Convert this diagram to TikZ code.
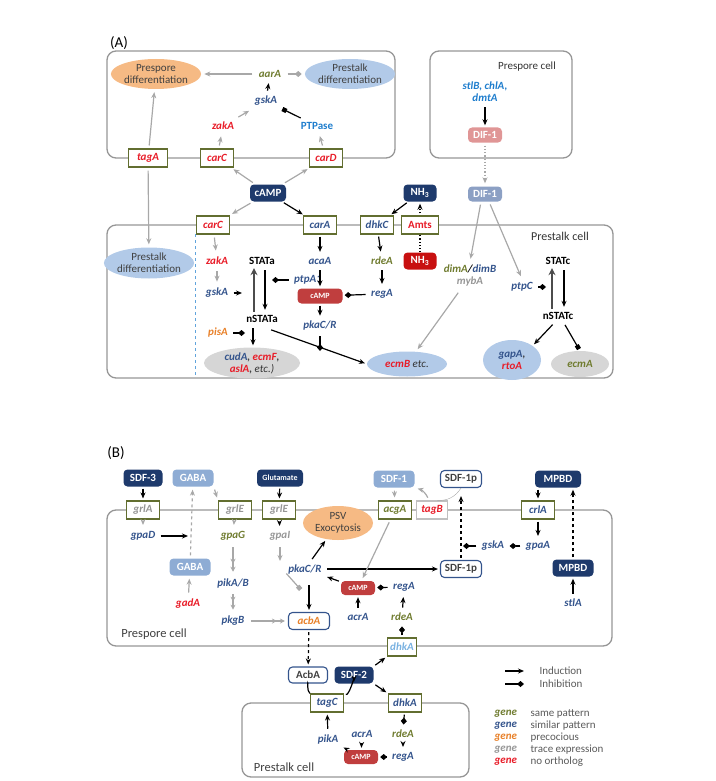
\documentclass[tikz,border=0pt]{standalone}
\usepackage{fontspec}
\setmainfont{Carlito}
\usetikzlibrary{arrows.meta,shapes.geometric}

\definecolor{gngreen}{RGB}{112,124,48}
\definecolor{gnblue}{RGB}{52,84,140}
\definecolor{gnorange}{RGB}{232,128,40}
\definecolor{gngrey}{RGB}{150,150,150}
\definecolor{gnred}{RGB}{232,28,40}
\definecolor{skyblue}{RGB}{30,125,205}
\definecolor{boxgreen}{RGB}{98,110,48}
\definecolor{cellgrey}{RGB}{150,150,150}
\definecolor{arrgrey}{RGB}{168,168,168}
\definecolor{navy}{RGB}{30,58,108}
\definecolor{paleblue}{RGB}{142,172,212}
\definecolor{difblue}{RGB}{140,160,196}
\definecolor{difpink}{RGB}{224,150,150}
\definecolor{camp}{RGB}{192,62,62}
\definecolor{nhred}{RGB}{200,16,16}
\definecolor{ellorange}{RGB}{246,186,132}
\definecolor{ellblue}{RGB}{178,202,232}
\definecolor{ellgrey}{RGB}{214,214,214}
\definecolor{legtext}{RGB}{90,90,90}

\tikzset{
  txt/.style={font=\fontsize{11}{12}\selectfont},
  lbl/.style={font=\fontsize{11}{12}\selectfont\bfseries},
  gene/.style={font=\fontsize{11}{12}\selectfont\bfseries\itshape},
  gg/.style={gene, text=gngreen},
  gb/.style={gene, text=gnblue},
  go/.style={gene, text=gnorange},
  gy/.style={gene, text=gngrey},
  gr/.style={gene, text=gnred},
  cellbox/.style={draw=cellgrey, line width=1.3pt, rounded corners=9pt},
  recep/.style={gene, draw=boxgreen, fill=white, line width=1.1pt, minimum width=33pt, minimum height=18pt, inner sep=1pt},
  pill/.style={lbl, rounded corners=4pt, minimum width=36pt, minimum height=17pt, inner sep=1pt, text=white},
  darkbox/.style={pill, fill=navy},
  lightbox/.style={pill, fill=paleblue},
  redbox/.style={pill, fill=camp, minimum width=34pt, minimum height=14pt, font=\fontsize{8}{9}\selectfont\bfseries},
  openbox/.style={pill, draw=gnblue, line width=1.1pt, fill=white, text=black!75},
  blob/.style={ellipse, txt, align=center, inner sep=0pt, text=black!75},
  ind/.style={-{Stealth[length=6pt,width=5pt]}, line width=1.2pt, shorten <=2pt, shorten >=2pt},
  inh/.style={-{Diamond[length=7pt,width=6pt]}, line width=1.2pt, shorten <=2pt, shorten >=2pt},
  blk/.style={-{Square[length=4.5pt,width=4.5pt]}, line width=1.2pt, shorten <=2pt, shorten >=2pt},
  gind/.style={ind, arrgrey, shorten <=3pt, shorten >=3pt},
  ginh/.style={inh, arrgrey, shorten <=3pt, shorten >=3pt},
  gblk/.style={blk, arrgrey},
  gdbl/.style={-{Stealth[length=5pt,width=5pt,sep=3pt]Stealth[length=5pt,width=5pt]}, line width=1.2pt, arrgrey, shorten <=3pt, shorten >=3pt},
}

\begin{document}
\begin{tikzpicture}[x=1pt,y=-1pt]
\useasboundingbox (0,0) rectangle (715,781);

% (A)
\node[txt, font=\fontsize{15}{16}\selectfont] (labA) at (119,43) {(A)};
\draw[cellbox] (107,51) rectangle (395,158);
\draw[cellbox] (430,51) rectangle (572,158);
\draw[cellbox] (107,225) rectangle (613,378);
\draw[skyblue!70, dashed] (195,234) -- (195,376);

\node[blob, fill=ellorange, minimum width=88pt, minimum height=30pt] (spdiff) at (156,74) {Prespore\\differentiation};
\node[blob, fill=ellblue, minimum width=82pt, minimum height=30pt] (tkdiff) at (350,74) {Prestalk\\differentiation};
\node[gg] (aarA) at (270,74) {aarA};
\node[gb] (tgskA) at (266,101) {gskA};
\node[gr] (tzakA) at (223,126) {zakA};
\node[lbl, text=skyblue] (ptpase) at (317,126) {PTPase};
\node[recep, text=gnred, minimum width=39pt] (tagA) at (148,158) {tagA};
\node[recep, text=gnred] (tcarC) at (217,158) {carC};
\node[recep, text=gnred] (carD) at (326,158) {carD};
\node[darkbox] (tcamp) at (268,193) {cAMP};

\node[txt, text=black!80] (spcell) at (527,67) {Prespore cell};
\node[gene, text=skyblue, align=center] (stlB) at (485,92) {stlB, chlA,\\dmtA};
\node[pill, fill=difpink, minimum width=34pt, minimum height=15pt] (pdif) at (485,135) {DIF-1};
\node[pill, fill=difblue, minimum width=34pt, minimum height=15pt] (dif) at (485,194) {DIF-1};

\node[recep, text=gnred] (scarC) at (213,225) {carC};
\node[recep, text=gnblue] (carA) at (320,225) {carA};
\node[recep, text=gnblue] (dhkC) at (377,225) {dhkC};
\node[recep, lbl, text=gnred, minimum width=37pt] (amts) at (420,225) {Amts};
\node[darkbox, minimum width=33pt] (nho) at (420,193) {NH\textsubscript{3}};
\node[pill, fill=nhred, minimum width=33pt] (nhi) at (420,261) {NH\textsubscript{3}};

\node[blob, fill=ellblue, minimum width=76pt, minimum height=31pt] (stdiff) at (149,263) {Prestalk\\differentiation};
\node[gr] (szakA) at (217,261) {zakA};
\node[gb] (sgskA) at (217,293) {gskA};
\node[lbl] (stata) at (262,261) {STATa};
\node[lbl] (nstata) at (262,319) {nSTATa};
\node[gb] (ptpA1) at (308,280) {ptpA1};
\node[go] (pisA) at (218,333) {pisA};
\node[blob, fill=ellgrey, minimum width=96pt, minimum height=31pt, gene] (cud) at (252,363)
  {\textcolor{gnblue}{cudA},\ \textcolor{gnred}{ecmF},\\\textcolor{gnred}{aslA}, \textcolor{black!80}{\mdseries etc.)}};
\node[gb] (acaA) at (320,261) {acaA};
\node[redbox, minimum width=45pt, minimum height=15pt] (scamp) at (320,296) {cAMP};
\node[gb] (spkaC) at (320,326) {pkaC/R};
\node[gg] (rdeA) at (382,261) {rdeA};
\node[gb] (sregA) at (382,294) {regA};
\node[gene, align=center] (dima) at (470,276) {\textcolor{gngreen}{dimA}/\textcolor{gnblue}{dimB}\\\textcolor{gngrey}{mybA}};
\node[gb] (ptpC) at (522,287) {ptpC};
\node[blob, fill=ellblue, minimum width=80pt, minimum height=25pt, gene] (ecmB) at (407,364) {\textcolor{gnred}{ecmB} \textcolor{black!80}{\mdseries etc.}};
\node[txt, text=black!80, font=\fontsize{12}{13}\selectfont] (stcell) at (560,236) {Prestalk cell};
\node[lbl] (statc) at (558,261) {STATc};
\node[lbl] (nstatc) at (558,316) {nSTATc};
\node[blob, fill=ellblue, minimum width=58pt, minimum height=40pt, gene] (gapA) at (512,360) {\textcolor{gnblue}{gapA},\\\textcolor{gnred}{rtoA}};
\node[blob, fill=ellgrey, minimum width=58pt, minimum height=26pt, gg] (ecmA) at (580,364) {ecmA};

\coordinate (gskend) at (244,293);
\coordinate (ptpend) at (270,280);
\coordinate (pisend) at (247,333);
\coordinate (pkaend) at (320,353);
\coordinate (ptpcend) at (548,287);

\draw[gind] (aarA) -- (spdiff);
\draw[ginh] (aarA) -- (tkdiff);
\draw[ind] (tgskA) -- (aarA);
\draw[blk] (ptpase) -- (tgskA);
\draw[gind] (tzakA) -- (tgskA);
\draw[gind] (tcarC) -- (tzakA);
\draw[gind] (carD) -- (ptpase);
\draw[gind] (tagA) -- (spdiff);
\draw[gind] (tcamp) -- (tcarC);
\draw[gind] (tcamp) -- (carD);
\draw[gind] (tagA) -- (stdiff);
\draw[ind] (stlB) -- (pdif);
\draw[gind, dotted] (pdif) -- (dif);
\draw[ind] (tcamp) -- (carA);
\draw[gind] (tcamp) -- (scarC);
\draw[line width=1.2pt, dotted] (nhi) -- (amts);
\draw[ind, dotted] (amts) -- (nho);
\draw[ind] (nho) -- (dhkC);
\draw[gind] (scarC) -- (szakA);
\draw[gind] (szakA) -- (sgskA);
\draw[ind] (sgskA) -- (gskend);
\draw[-{Stealth[length=7pt,width=7pt]}, line width=2pt, black!70] ([xshift=-8pt]nstata.north) -- ([xshift=-8pt]stata.south);
\draw[ind] ([xshift=3pt]stata.south) -- ([xshift=3pt]nstata.north);
\draw[inh] (ptpA1) -- (ptpend);
\draw[inh] (pisA) -- (pisend);
\draw[ind] ([xshift=-9pt]nstata.south) -- ([xshift=1pt]cud.north);
\draw[ind] ([xshift=-12pt,yshift=-3pt]nstata.south east) -- (ecmB.west);
\draw[ind] (carA) -- (acaA);
\draw[ind] (acaA) -- (scamp);
\draw[ind] (scamp) -- (spkaC);
\draw[inh] (spkaC) -- (pkaend);
\draw[ind] (dhkC) -- (rdeA);
\draw[ind] (rdeA) -- (sregA);
\draw[inh] (sregA) -- (scamp);
\draw[gind] ([xshift=-4pt]dif.south) -- (dima.north);
\draw[gind] ([xshift=4pt]dif.south) -- (ptpC.north);
\draw[gind] ([xshift=-10pt]dima.south) -- (ecmB);
\draw[inh] (ptpC) -- (ptpcend);
\draw[-{Stealth[length=7pt,width=7pt]}, line width=2pt, black!70] ([xshift=-6pt]nstatc.north) -- ([xshift=-6pt]statc.south);
\draw[ind] ([xshift=6pt]statc.south) -- ([xshift=6pt]nstatc.north);
\draw[ind] ([xshift=-4pt]nstatc.south) -- (gapA.north east);
\draw[blk] ([xshift=6pt]nstatc.south) -- (ecmA.north);

% (B)
\node[txt, font=\fontsize{15}{16}\selectfont] (labB) at (116,453) {(B)};
\draw[cellbox] (107,510) rectangle (612,646);
\draw[cellbox] (242,703) rectangle (469,777);
\node[txt, font=\fontsize{12.5}{13}\selectfont, text=black!75] (spcellB) at (154,634) {Prespore cell};
\node[txt, font=\fontsize{12.5}{13}\selectfont, text=black!75] (stcellB) at (284,767) {Prestalk cell};

\node[recep, text=gngrey] (grlA) at (143,510) {grlA};
\node[recep, text=gngrey] (grlE) at (235,510) {grlE};
\node[recep, text=gngrey] (grlEb) at (279,510) {grlE};
\node[recep, text=gngreen] (acgA) at (395,510) {acgA};
\node[recep, draw=cellgrey!60, text=gnred, minimum width=31pt] (tagB) at (432,510) {tagB};
\node[recep, text=gnblue] (crlA) at (538,510) {crlA};
\node[recep, text=skyblue!60, minimum width=29pt] (pdhkA) at (402,647) {dhkA};

\node[darkbox, minimum width=39pt] (sdf3) at (143,478) {SDF-3};
\node[lightbox, minimum width=41pt] (gabao) at (193,478) {GABA};
\node[darkbox, minimum width=46pt, font=\fontsize{8}{9}\selectfont\bfseries] (glut) at (280,478) {Glutamate};
\node[lightbox, minimum width=41pt] (sdf1) at (394,479) {SDF-1};
\node[openbox, minimum width=41pt] (sdfpo) at (461,479) {SDF-1p};
\node[darkbox, minimum width=46pt] (mpbdo) at (558,479) {MPBD};

\node[gb] (gpaD) at (143,536) {gpaD};
\node[lightbox, minimum width=41pt] (gabai) at (190,567) {GABA};
\node[gr] (gadA) at (188,604) {gadA};
\node[gg] (gpaG) at (233,536) {gpaG};
\node[gb] (pikAB) at (233,583) {pikA/B};
\node[gb] (pkgB) at (233,621) {pkgB};
\node[openbox, gene, text=gnorange, minimum width=41pt] (acbA) at (309,621) {acbA};
\node[gy] (gpaI) at (280,536) {gpaI};
\node[gb] (bpkaC) at (305,569) {pkaC/R};
\node[blob, fill=ellorange, minimum width=70pt, minimum height=34pt] (psv) at (338,523) {PSV\\Exocytosis};
\node[redbox] (bcamp) at (358,588) {cAMP};
\node[gb] (bacrA) at (358,617) {acrA};
\node[gb] (bregA) at (404,587) {regA};
\node[gg] (brdeA) at (402,617) {rdeA};
\node[gb] (bgskA) at (493,546) {gskA};
\node[gb] (gpaA) at (538,546) {gpaA};
\node[openbox, minimum width=41pt] (sdfpi) at (461,569) {SDF-1p};
\node[darkbox, minimum width=41pt] (mpbdi) at (573,568) {MPBD};
\node[gb] (stlA) at (573,603) {stlA};

\node[openbox, minimum width=39pt, minimum height=16pt] (acbAp) at (308,675) {AcbA};
\node[darkbox, minimum width=39pt] (sdf2) at (354,675) {SDF-2};
\node[recep, text=gnblue] (tagC) at (327,703) {tagC};
\node[recep, text=gnblue] (kdhkA) at (405,703) {dhkA};
\node[gb] (pikA) at (328,739) {pikA};
\node[gb] (kacrA) at (362,734) {acrA};
\node[redbox] (kcamp) at (361,757) {cAMP};
\node[gg] (krdeA) at (403,734) {rdeA};
\node[gb] (kregA) at (403,757) {regA};

\coordinate (gpaIend) at (280,564);
\coordinate (gpaIs) at (285,572);
\coordinate (gpaIt) at (302,591);

\draw[ind] (sdf3) -- (grlA);
\draw[ind] (glut) -- (grlEb);
\draw[gind] (gabao.south east) -- (grlE.north west);
\draw[gind] (sdf1) -- (acgA);
\draw[gind] ([xshift=-3pt]tagB.north) to[bend right=25] (sdf1.south east);
\draw[arrgrey, thin] (sdfpo.south) to[bend left=30] ([xshift=5pt]tagB.north);
\draw[ind] (mpbdo.south -| crlA) -- (crlA);
\draw[ind, dashed] (mpbdi) -- (mpbdi |- mpbdo.south);
\draw[ind, dashed, shorten >=8pt] (sdfpi) -- (sdfpo);
\draw[gind] (grlA) -- (gpaD);
\draw[ind] (gpaD) -- (gabai |- gpaD);
\draw[gind, dashed] (gabai) -- (gabao);
\draw[gind] (gadA) -- (gabai);
\draw[gind] (grlE) -- (gpaG);
\draw[gdbl] (gpaG) -- (pikAB);
\draw[gdbl] (pikAB) -- (pkgB);
\draw[gdbl] (pkgB) -- (acbA);
\draw[ind] (grlEb) -- (gpaI);
\draw[gind] (gpaI) -- (gpaIend);
\draw[gblk] (gpaIs) -- (gpaIt);
\draw[ind, shorten <=8pt] (bpkaC.south -| acbA) -- (acbA);
\draw[ind] (bpkaC) -- (psv);
\draw[ind] (bpkaC) -- (sdfpi);
\draw[ind] (bcamp) -- (bpkaC);
\draw[gind] (acgA) -- (bcamp);
\draw[ind] (bacrA) -- (bcamp);
\draw[ind] (brdeA) -- (bregA);
\draw[inh] (bregA) -- (bcamp);
\draw[inh] (pdhkA) -- (brdeA);
\draw[ind] (crlA) -- (gpaA);
\draw[inh] (gpaA) -- (bgskA);
\draw[inh] (bgskA) -- (bgskA -| sdfpi);
\draw[ind] (stlA) -- (mpbdi);
\draw[ind, dashed] (acbA) -- (acbAp);
\draw[line width=1.2pt] (acbAp.south) to[out=90,in=150] (tagC.north west);
\draw[ind] (tagC.north east) to[out=-30,in=90] (sdf2.south);
\draw[ind] (sdf2.north east) -- (pdhkA.south west);
\draw[ind] (sdf2.south east) -- (kdhkA.north west);
\draw[inh] (kdhkA) -- (krdeA);
\draw[ind] (krdeA) -- (kregA);
\draw[inh] (kregA) -- (kcamp);
\draw[ind] (kacrA) -- (kcamp);
\draw[ind] (kcamp) -- (pikA);
\draw[ind] (pikA) -- (tagC);

% legend
\coordinate (lgA) at (505,671);
\coordinate (lgB) at (524,671);
\coordinate (lgC) at (505,684);
\coordinate (lgD) at (524,684);
\draw[ind, shorten <=0pt, shorten >=0pt] (lgA) -- (lgB);
\draw[inh, shorten <=0pt, shorten >=0pt] (lgC) -- (lgD);
\node[txt, text=legtext, anchor=west] (lgind) at (536,671) {Induction};
\node[txt, text=legtext, anchor=west] (lginh) at (536,684) {Inhibition};
\foreach \col/\txtl [count=\i] in {gngreen/same pattern,gnblue/similar pattern,gnorange/precocious,gngrey/trace expression,gnred/no ortholog}
{
  \node[gene, text=\col, anchor=west] (gk\i) at (491,{702+12*\i}) {gene};
  \node[txt, text=legtext, anchor=west] (gt\i) at (527,{702+12*\i}) {\txtl};
}
\end{tikzpicture}
\end{document}
